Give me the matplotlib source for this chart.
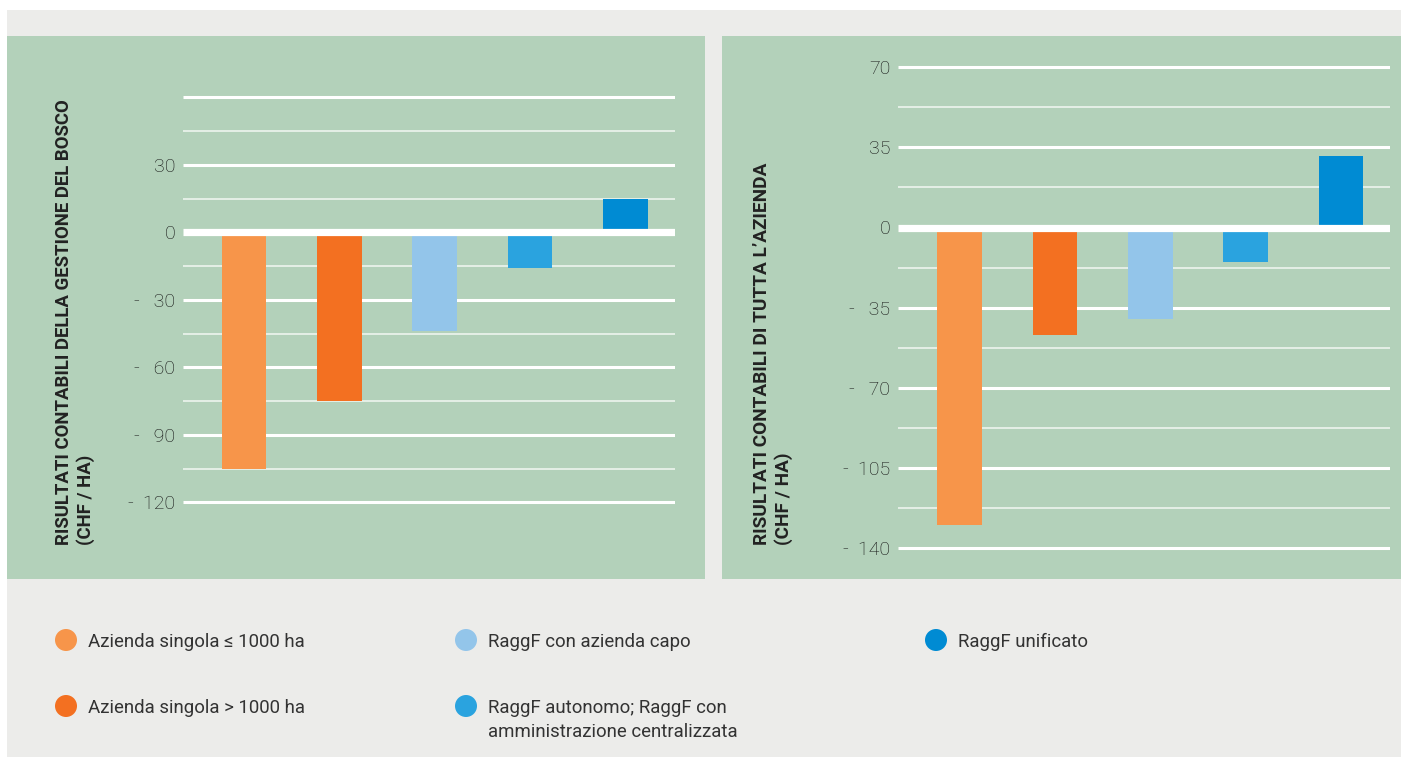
import matplotlib
matplotlib.use("Agg")
import matplotlib.pyplot as plt
import matplotlib.font_manager as fm
from matplotlib.patches import Rectangle, Circle

# ---------------- data ----------------
categories = [
    "Azienda singola ≤ 1000 ha",
    "Azienda singola > 1000 ha",
    "RaggF con azienda capo",
    "RaggF autonomo; RaggF con\namministrazione centralizzata",
    "RaggF unificato",
]
colors = ["#F7954A", "#F37021", "#93C5EA", "#2AA3DF", "#008BD3"]

left_values = [-105, -75, -44, -16, 15]
right_values = [-130, -47, -40, -15, 31]

left_major = [60, 30, 0, -30, -60, -90, -120]
left_minor = [45, 15, -15, -45, -75, -105]
left_labels = {30: "30", 0: "0", -30: "-   30", -60: "-   60", -90: "-   90", -120: "-  120"}

right_major = [70, 35, 0, -35, -70, -105, -140]
right_minor = [52.5, 17.5, -17.5, -52.5, -87.5, -122.5]
right_labels = {70: "70", 35: "35", 0: "0", -35: "-   35", -70: "-   70", -105: "-  105", -140: "-  140"}

left_ylabel = "RISULTATI CONTABILI DELLA GESTIONE DEL BOSCO\n(CHF / HA)"
right_ylabel = "RISULTATI CONTABILI DI TUTTA L’AZIENDA\n(CHF / HA)"

# ---------------- fonts ----------------
names = {f.name for f in fm.fontManager.ttflist}
base = "Roboto" if "Roboto" in names else "DejaVu Sans"
narrow = "Liberation Sans Narrow" if "Liberation Sans Narrow" in names else base
plt.rcParams["font.family"] = [base, "DejaVu Sans"]

W, H = 1401, 757
GREEN = "#B3D1BA"
GREY = "#ECECEA"

fig = plt.figure(figsize=(W / 100, H / 100), dpi=100, facecolor="white")

def fx(x):
    return x / W

def fy(y):
    return 1 - y / H

# backgrounds
fig.patches.append(Rectangle((fx(7), 0), fx(W - 7), fy(10), transform=fig.transFigure,
                             facecolor=GREY, edgecolor="none", zorder=-10))
fig.patches.append(Rectangle((fx(7), fy(579)), fx(705 - 7), (579 - 36) / H, transform=fig.transFigure,
                             facecolor=GREEN, edgecolor="none", zorder=-9))
fig.patches.append(Rectangle((fx(722), fy(579)), fx(W - 722), (579 - 36) / H, transform=fig.transFigure,
                             facecolor=GREEN, edgecolor="none", zorder=-9))


def draw_panel(x0, x1, zero_y, px_per_unit, values, major, minor, labels, ylabel, label_x, lab_fs, xlim):
    ax = fig.add_axes([fx(x0), fy(579), fx(x1 - x0), (579 - 36) / H])
    ax.set_facecolor("none")
    ax.set_ylim(-(579 - zero_y) / px_per_unit, (zero_y - 36) / px_per_unit)
    ax.set_xlim(*xlim)
    for s in ax.spines.values():
        s.set_visible(False)
    ax.set_xticks([])
    for v in major:
        lw = 5.2 if v == 0 else 2.2
        ax.axhline(v, color="white", lw=lw, zorder=3 if v == 0 else 1, solid_capstyle="butt")
    for v in minor:
        ax.axhline(v, color="#F2F7F3", lw=1.1, zorder=1, solid_capstyle="butt")
    xs = list(range(len(values)))
    ax.bar(xs, values, width=0.468, color=colors, zorder=2)
    ticks = [v for v in major if v in labels]
    ax.set_yticks(ticks)
    ax.set_yticklabels([labels[v] for v in ticks], fontsize=14, color="#111111",
                       fontweight="light", family=[base, "DejaVu Sans"])
    ax.tick_params(axis="y", length=0, pad=5.5)
    fig.text(fx(label_x), fy(545), ylabel, rotation=90, ha="left", va="bottom",
             multialignment="left", fontsize=lab_fs, fontweight="bold", color="#222222",
             family=[narrow, "DejaVu Sans"], linespacing=1.2)
    return ax


draw_panel(183, 675, 232.3, 2.25, left_values, left_major, left_minor, left_labels,
           left_ylabel, 55, 13.4, (-0.64, 4.52))
draw_panel(898, 1390, 227.5, 2.291, right_values, right_major, right_minor, right_labels,
           right_ylabel, 753, 13.7, (-0.647, 4.513))

# ---------------- legend ----------------
ov = fig.add_axes([0, 0, 1, 1])
ov.set_xlim(0, W)
ov.set_ylim(H, 0)
ov.axis("off")
ov.set_facecolor("none")
legend_pos = [(66, 640), (66, 706), (466, 640), (466, 706), (936, 640)]
for (cx, cy), lab, col in zip(legend_pos, categories, colors):
    ov.add_patch(Circle((cx, cy), 11, facecolor=col, edgecolor="none"))
    for i, line in enumerate(lab.split("\n")):
        ov.text(cx + 22, cy + i * 24, line, ha="left", va="center_baseline",
                fontsize=13.4, color="#333333")

fig.savefig("out.png", dpi=100, facecolor="white")
